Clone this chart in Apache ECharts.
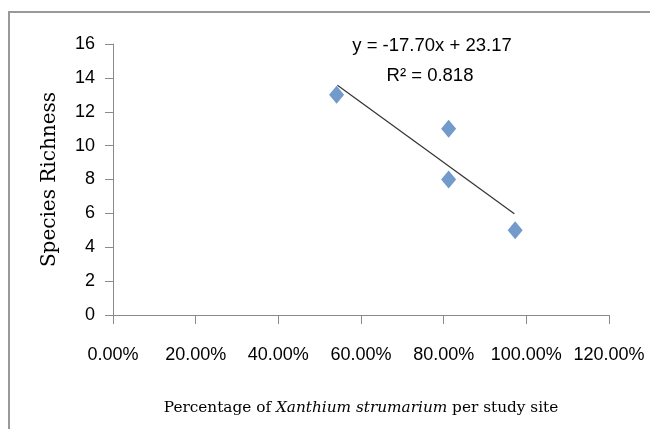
<!DOCTYPE html>
<html>
<head>
<meta charset="utf-8">
<script src="https://cdn.jsdelivr.net/npm/echarts@6/dist/echarts.min.js"></script>
<style>
html,body{margin:0;padding:0;background:#fff;}
#chart{width:650px;height:429px;}
</style>
</head>
<body>
<div id="chart"></div>
<script>
// Data
var siteShare = [0.541, 0.812, 0.812, 0.973];      // fraction of Xanthium strumarium
var speciesRichness = [13, 11, 8, 5];
var trendSlope = -17.70;
var trendIntercept = 23.17;
var trendRange = [0.543, 0.971];
var yTicks = [0, 2, 4, 6, 8, 10, 12, 14, 16];
var xTicks = [0, 0.2, 0.4, 0.6, 0.8, 1.0, 1.2];
var equationText = 'y = -17.70x + 23.17';
var r2Text = 'R\u00B2 = 0.818';

var points = siteShare.map(function (x, i) { return [x, speciesRichness[i]]; });
var trend = trendRange.map(function (x) { return [x, trendSlope * x + trendIntercept]; });

var chart = echarts.init(document.getElementById('chart'));
var axisColor = '#8a8a8a';
var labelFont = 'Liberation Sans';
chart.setOption({
  animation: false,
  backgroundColor: '#ffffff',
  grid: { left: 113, top: 44, right: 41, bottom: 114 },
  graphic: [
    { type: 'rect', shape: { x: 9, y: 12, width: 700, height: 500 },
      style: { fill: 'none', stroke: '#999999', lineWidth: 2 }, silent: true },
    { type: 'text', x: 432, y: 46,
      style: { text: equationText, font: '18.5px "Liberation Sans"', fill: '#000', align: 'center', verticalAlign: 'middle' } },
    { type: 'text', x: 430, y: 76,
      style: { text: r2Text, font: '18.5px "Liberation Sans"', fill: '#000', align: 'center', verticalAlign: 'middle' } }
  ],
  xAxis: {
    type: 'value', min: 0, max: 1.2, interval: 0.2,
    splitLine: { show: false },
    axisLine: { show: true, lineStyle: { color: axisColor, width: 1 } },
    axisTick: { show: true, length: 9, lineStyle: { color: axisColor } },
    axisLabel: {
      margin: 31, color: '#000', fontFamily: labelFont, fontSize: 18,
      formatter: function (v) { return (v * 100).toFixed(2) + '%'; }
    },
    name: '{n|Percentage of }{i|Xanthium strumarium}{n| per study site}',
    nameLocation: 'middle', nameGap: 86,
    nameTextStyle: {
      rich: {
        n: { fontFamily: 'DejaVu Serif', fontSize: 15.3, color: '#000' },
        i: { fontFamily: 'DejaVu Serif', fontStyle: 'italic', fontSize: 15.3, color: '#000' }
      }
    }
  },
  yAxis: {
    type: 'value', min: 0, max: 16, interval: 2,
    splitLine: { show: false },
    axisLine: { show: true, lineStyle: { color: axisColor, width: 1 } },
    axisTick: { show: true, length: 8, lineStyle: { color: axisColor } },
    axisLabel: { margin: 18, color: '#000', fontFamily: labelFont, fontSize: 18 },
    name: 'Species Richness', nameLocation: 'middle', nameGap: 53,
    nameTextStyle: { fontFamily: 'DejaVu Serif', fontSize: 20, color: '#000' }
  },
  series: [
    { type: 'line', data: trend, symbol: 'none', z: 2,
      lineStyle: { color: '#333333', width: 1.2 } },
    { type: 'scatter', data: points, symbol: 'diamond', symbolSize: [15, 18], z: 3,
      itemStyle: { color: '#4F81BD' } }
  ]
});
</script>
</body>
</html>
